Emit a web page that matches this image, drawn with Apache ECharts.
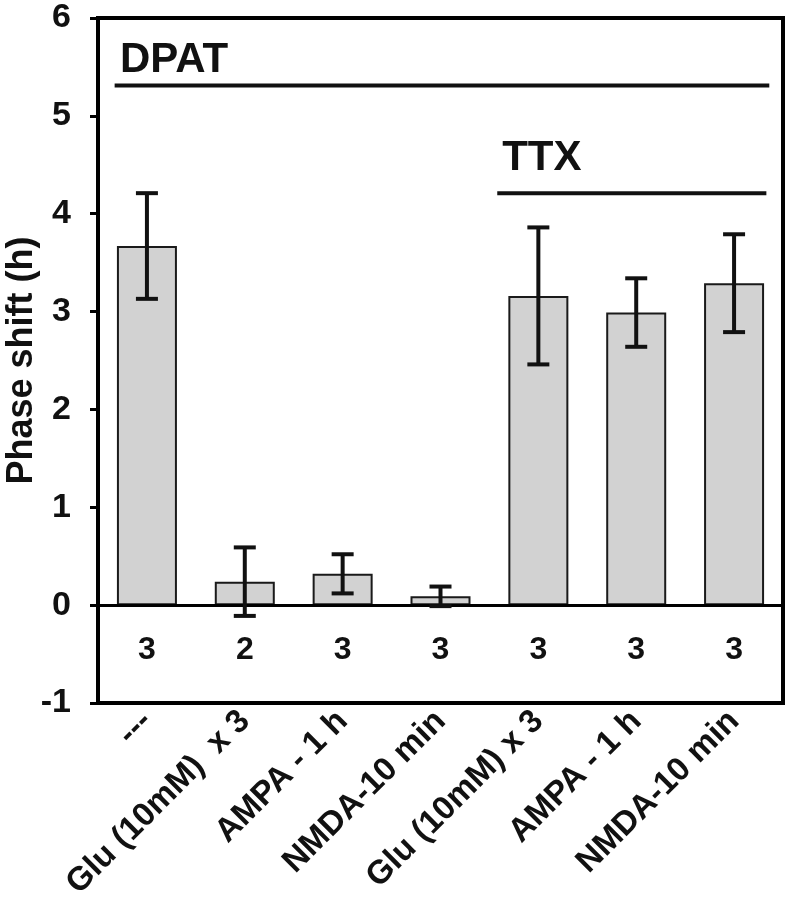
<!DOCTYPE html>
<html>
<head>
<meta charset="utf-8">
<script src="https://cdn.jsdelivr.net/npm/echarts@6/dist/echarts.min.js"></script>
<style>html,body{margin:0;padding:0;background:#fff}#c{width:789px;height:900px}</style>
</head>
<body>
<div id="c"></div>
<script>
var categories = ['---', 'Glu (10mM)  x 3', 'AMPA - 1 h', 'NMDA-10 min', 'Glu (10mM) x 3', 'AMPA - 1 h', 'NMDA-10 min'];
var means = [3.67, 0.24, 0.32, 0.09, 3.16, 2.99, 3.29];
var errors = [0.54, 0.35, 0.20, 0.10, 0.70, 0.35, 0.50];
var counts = [3, 2, 3, 3, 3, 3, 3];
var countY = -0.46;
var yTicks = [-1, 0, 1, 2, 3, 4, 5, 6];
var groupNames = ['DPAT', 'TTX'];
var groupTextX = [-0.275, 3.63];
var groupTextY = [5.57, 4.57];
var groupLineStart = [-0.33, 3.58];
var groupLineEnd = [6.36, 6.33];
var groupLineY = [5.31, 4.21];

var FONT = 'Liberation Sans, Arial, sans-serif';
var chart = echarts.init(document.getElementById('c'));

var series = [];
series.push({
  type: 'bar',
  xAxisIndex: 0,
  data: means,
  barWidth: 60,
  itemStyle: { color: '#d2d2d2', borderColor: '#1a1a1a', borderWidth: 2 },
  silent: true,
  z: 2,
  markLine: {
    silent: true, symbol: 'none', animation: false,
    label: { show: false },
    lineStyle: { color: '#000', width: 3, type: 'solid' },
    data: [{ yAxis: 0 }]
  }
});
series.push({
  type: 'custom',
  xAxisIndex: 0,
  z: 5,
  data: means.map(function (m, i) { return [i, m, errors[i]]; }),
  renderItem: function (params, api) {
    var x = api.value(0), m = api.value(1), e = api.value(2);
    var top = api.coord([x, m + e]);
    var bot = api.coord([x, m - e]);
    var hw = 11;
    var st = { stroke: '#111', lineWidth: 4 };
    return {
      type: 'group',
      children: [
        { type: 'line', shape: { x1: top[0], y1: top[1], x2: bot[0], y2: bot[1] }, style: st },
        { type: 'line', shape: { x1: top[0] - hw, y1: top[1], x2: top[0] + hw, y2: top[1] }, style: st },
        { type: 'line', shape: { x1: bot[0] - hw, y1: bot[1], x2: bot[0] + hw, y2: bot[1] }, style: st }
      ]
    };
  }
});
series.push({
  type: 'scatter',
  xAxisIndex: 0,
  symbolSize: 0,
  silent: true,
  itemStyle: { opacity: 1 },
  data: counts.map(function (c, i) { return [i, countY, c]; }),
  label: {
    show: true, position: [0, 0], align: 'center', verticalAlign: 'middle',
    formatter: function (p) { return String(p.data[2]); },
    fontFamily: FONT, fontWeight: 'bold', fontSize: 32, color: '#111'
  }
});
groupNames.forEach(function (name, i) {
  series.push({
    type: 'line',
    xAxisIndex: 1,
    symbol: 'none',
    silent: true,
    lineStyle: { color: '#111', width: 4 },
    data: [[groupLineStart[i], groupLineY[i]], [groupLineEnd[i], groupLineY[i]]]
  });
});
series.push({
  type: 'scatter',
  xAxisIndex: 1,
  symbolSize: 0,
  silent: true,
  itemStyle: { opacity: 1 },
  data: groupNames.map(function (n, i) { return [groupTextX[i], groupTextY[i], n]; }),
  label: {
    show: true, position: [0, 0], align: 'left', verticalAlign: 'middle',
    formatter: function (p) { return p.data[2]; },
    fontFamily: FONT, fontWeight: 'bold', fontSize: 42, color: '#111'
  }
});

chart.setOption({
  animation: false,
  backgroundColor: '#fff',
  grid: { left: 98, right: 6, top: 18, bottom: 197, containLabel: false, outerBoundsMode: 'none', show: true, borderColor: '#000', borderWidth: 4, backgroundColor: 'transparent' },
  xAxis: [
    {
      type: 'category', data: categories, position: 'bottom',
      axisLine: { onZero: false, lineStyle: { color: '#000', width: 4 } },
      axisTick: { show: false },
      axisLabel: { rotate: 45, margin: 13, interval: 0, fontFamily: FONT, fontWeight: 'bold', fontSize: 33, color: '#111' }
    },
    { type: 'value', min: -0.5, max: 6.5, show: false }
  ],
  yAxis: {
    type: 'value', min: yTicks[0], max: yTicks[yTicks.length - 1], interval: 1,
    name: 'Phase shift (h)', nameLocation: 'middle', nameGap: 58, nameRotate: 90, nameMoveOverlap: false,
    nameTextStyle: { fontFamily: FONT, fontWeight: 'bold', fontSize: 36, color: '#111' },
    axisLine: { show: true, onZero: false, lineStyle: { color: '#000', width: 4 } },
    axisTick: { show: true, inside: false, length: 8, lineStyle: { color: '#000', width: 3 } },
    splitLine: { show: false },
    axisLabel: { margin: 27, fontFamily: FONT, fontWeight: 'bold', fontSize: 34, color: '#111' }
  },
  series: series
});
</script>
</body>
</html>
